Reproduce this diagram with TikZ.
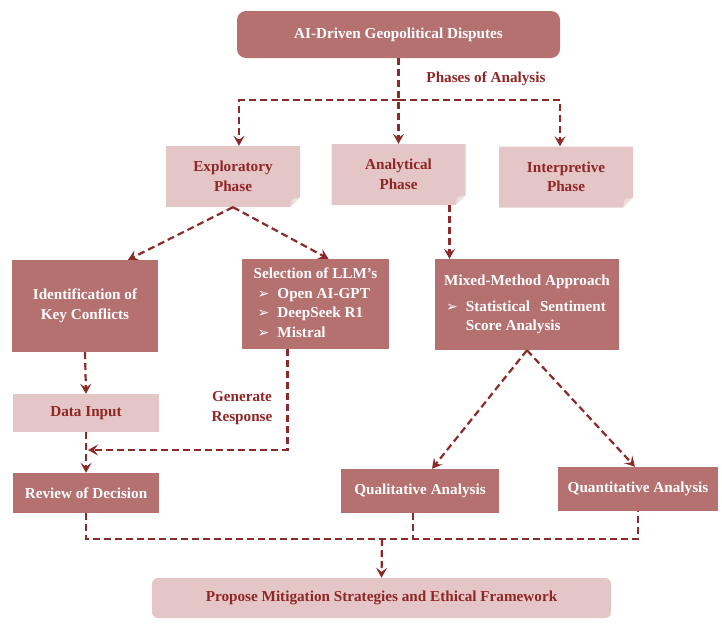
\documentclass[tikz,border=0pt]{standalone}
\usepackage{fontspec}
\setmainfont{Liberation Serif}
\newfontfamily\symfont{DejaVu Sans}
\usetikzlibrary{arrows.meta}
\definecolor{darkbox}{RGB}{181,112,112}
\definecolor{lightbox}{RGB}{228,198,198}
\definecolor{foldcol}{RGB}{240,222,222}
\definecolor{darktext}{RGB}{143,38,38}
\definecolor{linecol}{RGB}{140,42,42}
\newcommand\llmarrow{{\symfont\mdseries\fontsize{14}{14}\selectfont ➢}}
\tikzset{
  base/.style={font=\fontsize{15.2}{19.5}\selectfont\bfseries, align=center, inner sep=0pt},
  darknode/.style={base, fill=darkbox, text=white},
  lightnode/.style={base, fill=lightbox, text=darktext},
  label/.style={base, text=darktext},
  phasenode/.style={base, text=darktext, minimum width=134pt, minimum height=61pt,
    path picture={
      \fill[lightbox] (path picture bounding box.south west) |- (path picture bounding box.north east)
        -- ([yshift=10pt]path picture bounding box.south east) -- ([xshift=-10pt]path picture bounding box.south east) -- cycle;
      \fill[foldcol] ([yshift=10pt]path picture bounding box.south east) -- ([xshift=-10pt]path picture bounding box.south east)
        -- ([xshift=-8pt,yshift=8pt]path picture bounding box.south east) -- cycle;}},
  dashline/.style={draw=linecol, line width=2.2pt, dash pattern=on 7pt off 4pt},
  flow/.style={dashline, -{Stealth[length=10pt,width=11pt,inset=4pt]}}
}
\begin{document}
\begin{tikzpicture}[x=1pt, y=-1pt]
  \useasboundingbox (0,0) rectangle (722,624);
  \node[darknode, rounded corners=9pt, minimum width=323pt, minimum height=47pt] (top) at (398.5,34.5) {AI-Driven Geopolitical Disputes};
  \node[label] (lab1) at (486,79) {Phases of Analysis};
  \node[phasenode] (ph1) at (233,176.5) {Exploratory\\Phase};
  \node[phasenode] (ph2) at (398.5,174.5) {Analytical\\Phase};
  \node[phasenode] (ph3) at (566,177) {Interpretive\\Phase};
  \node[darknode, minimum width=146pt, minimum height=92pt] (k1) at (85,306) {Identification of\\Key Conflicts};
  \node[darknode, minimum width=147pt, minimum height=90pt] (k2) at (315.5,304) {%
    \begin{tabular}{@{}l@{\hspace{8pt}}l@{}}
      \multicolumn{2}{@{}l@{}}{Selection of LLM’s}\\
      \hspace{4pt}\llmarrow & Open AI-GPT\\
      \hspace{4pt}\llmarrow & DeepSeek R1\\
      \hspace{4pt}\llmarrow & Mistral
    \end{tabular}};
  \node[darknode, minimum width=184pt, minimum height=91pt] (k3) at (527,304.5) {%
    \begin{tabular}{@{}l@{\hspace{8pt}}l@{}}
      \multicolumn{2}{@{}l@{}}{Mixed-Method Approach}\\[6pt]
      \hspace{2pt}\llmarrow & \makebox[140pt][s]{Statistical Sentiment}\\
      & Score Analysis
    \end{tabular}};
  \node[lightnode, minimum width=146pt, minimum height=38pt] (d1) at (86,413) {Data Input};
  \node[label] (lab2) at (242,408) {Generate\\Response};
  \node[darknode, minimum width=146pt, minimum height=40pt] (r1) at (86,493) {Review of Decision};
  \node[darknode, minimum width=158pt, minimum height=44pt] (q1) at (420,491) {Qualitative Analysis};
  \node[darknode, minimum width=160pt, minimum height=44pt] (q2) at (638,489) {Quantitative Analysis};
  \node[lightnode, rounded corners=6pt, minimum width=459pt, minimum height=40pt] (m0) at (381.5,598) {Propose Mitigation Strategies and Ethical Framework};
  \coordinate (c0) at (398.5,100);
  \coordinate (c1) at (88,450);
  \coordinate (c2) at (382,539);
  \begin{scope}[flow]
    \draw (top.south) -- (ph2.north);
    \draw (c0) -| ([xshift=6pt]ph1.north);
    \draw (c0) -| ([xshift=-6pt]ph3.north);
    \draw (ph1.south) -- ([xshift=43pt]k1.north);
    \draw (ph1.south) -- ([xshift=13pt]k2.north);
    \draw ([xshift=51pt]ph2.south) -- ([xshift=51pt]ph2.south |- k3.north);
    \draw (k1.south) -- (d1.north);
    \draw (d1.south) -- (r1.north);
    \draw ([xshift=-28pt]k2.south) |- (c1);
    \draw (k3.south) -- ([xshift=12pt]q1.north);
    \draw (k3.south) -- ([xshift=-3pt]q2.north);
    \draw (c2) -- (m0.north);
  \end{scope}
  \begin{scope}[dashline]
    \draw (r1.south) |- (c2 -| q2.south) -- (q2.south);
    \draw ([xshift=-7pt]q1.south) -- ([xshift=-7pt]q1.south |- c2);
  \end{scope}
\end{tikzpicture}
\end{document}
